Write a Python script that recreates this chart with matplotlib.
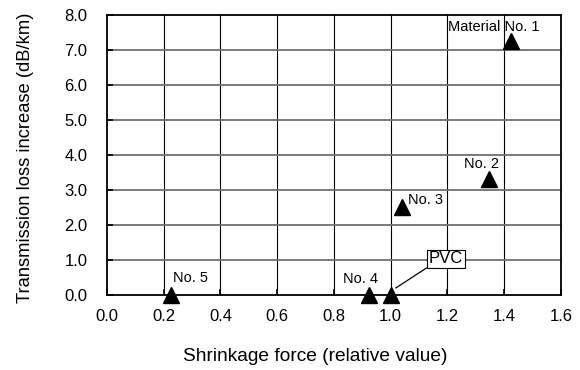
import numpy as np
import matplotlib.pyplot as plt

plt.rcParams['font.family'] = ['Liberation Sans', 'DejaVu Sans']

# data
names = ['Material No. 1', 'No. 2', 'No. 3', 'No. 4', 'No. 5', 'PVC']
force = [1.425, 1.345, 1.04, 0.925, 0.225, 1.0]
loss = [7.25, 3.3, 2.5, 0.0, 0.0, 0.0]
xticks = np.arange(0, 1.61, 0.2)
yticks = np.arange(0, 8.1, 1.0)

fig = plt.figure(figsize=(5.8, 3.7), dpi=100)
ax = fig.add_axes([0.1845, 0.2027, 0.7825, 0.7568])

ax.plot(force, loss, '^', color='black', markersize=12, clip_on=False, zorder=5)

ax.set_xlim(0, 1.6)
ax.set_ylim(0, 8)
ax.set_xticks(xticks)
ax.set_yticks(yticks)
ax.set_xticklabels(['%.1f' % v for v in xticks], fontsize=12)
ax.set_yticklabels(['%.1f' % v for v in yticks], fontsize=12)
ax.tick_params(direction='in', length=4, width=1.2)
ax.tick_params(axis='x', pad=10)
ax.tick_params(axis='y', pad=14)

# vertical grid black and thin, horizontal grey and thicker
for xv in xticks[1:-1]:
    ax.axvline(xv, color='black', lw=0.8, zorder=1)
for yv in yticks[1:-1]:
    ax.axhline(yv, color='#707070', lw=1.3, zorder=1)
for s in ax.spines.values():
    s.set_linewidth(1.3)

ax.set_xlabel('Shrinkage force (relative value)', fontsize=13.8, va='center')
ax.xaxis.set_label_coords(0.458, -0.221)
ax.set_ylabel('Transmission loss increase (dB/km)', fontsize=13.2, va='center')
ax.yaxis.set_label_coords(-0.18, 0.49)

# point labels
ax.text(1.202, 7.66, names[0], fontsize=10.5, ha='left', va='center')
ax.text(1.258, 3.74, names[1], fontsize=10.5, ha='left', va='center')
ax.text(1.061, 2.71, names[2], fontsize=10.5, ha='left', va='center')
ax.text(0.832, 0.46, names[3], fontsize=10.5, ha='left', va='center')
ax.text(0.233, 0.49, names[4], fontsize=10.5, ha='left', va='center')
ax.annotate(names[5], xy=(1.018, 0.2), xytext=(1.195, 1.03), fontsize=12,
            ha='center', va='center',
            bbox=dict(boxstyle='square,pad=0.1', fc='white', ec='black', lw=0.8),
            arrowprops=dict(arrowstyle='-', color='black', lw=0.9, shrinkA=0, shrinkB=0,
                            relpos=(0.0, 0.0)),
            zorder=6)

fig.savefig('out.png', dpi=100)
